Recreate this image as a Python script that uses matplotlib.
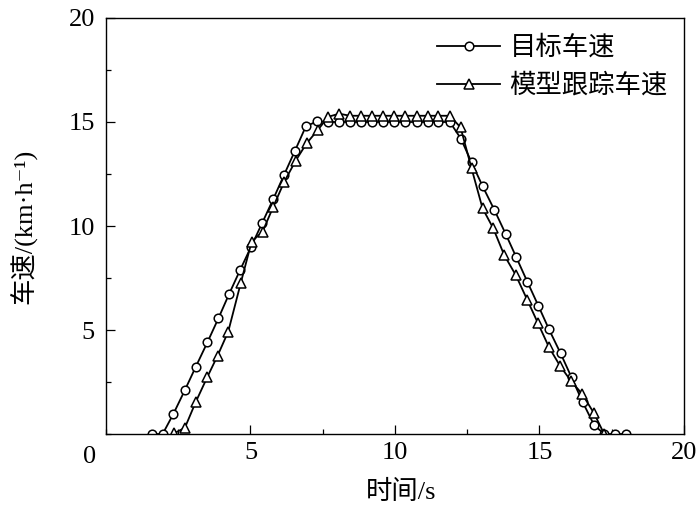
# -*- coding: utf-8 -*-

import numpy as np
import matplotlib
matplotlib.use("Agg")
import matplotlib.pyplot as plt
from matplotlib.ticker import MultipleLocator

plt.rcParams['font.family'] = ['Liberation Serif', 'Noto Sans CJK SC', 'DejaVu Serif']

# target speed (circles)
t_target = [1.58, 1.96, 2.33, 2.73, 3.11, 3.51, 3.89, 4.26, 4.64, 5.02,
            5.41, 5.79, 6.16, 6.54, 6.92, 7.31, 7.69, 8.07, 8.44, 8.82,
            9.20, 9.59, 9.98, 10.35, 10.75, 11.13, 11.49, 11.90, 12.28, 12.65,
            13.03, 13.44, 13.83, 14.20, 14.58, 14.96, 15.33, 15.73, 16.11, 16.49,
            16.89, 17.24, 17.61, 18.00]
v_target = [0.0, 0.0, 0.96, 2.11, 3.24, 4.41, 5.56, 6.73, 7.88, 9.00,
            10.16, 11.30, 12.45, 13.62, 14.80, 15.03, 15.0, 15.0, 15.0, 15.0,
            15.0, 15.0, 15.0, 15.0, 15.0, 15.0, 15.0, 15.0, 14.20, 13.06,
            11.92, 10.77, 9.62, 8.49, 7.32, 6.17, 5.03, 3.88, 2.72, 1.55,
            0.43, 0.0, 0.0, 0.0]

# model tracking speed (triangles)
t_model = [2.35, 2.73, 3.11, 3.51, 3.86, 4.23, 4.66, 5.04, 5.42, 5.79,
           6.17, 6.56, 6.94, 7.32, 7.69, 8.07, 8.44, 8.82, 9.20, 9.59,
           9.98, 10.35, 10.75, 11.13, 11.49, 11.90, 12.27, 12.65, 13.03, 13.40,
           13.78, 14.18, 14.58, 14.94, 15.33, 15.71, 16.09, 16.48, 16.89, 17.24]
v_model = [0.03, 0.30, 1.55, 2.75, 3.76, 4.92, 7.24, 9.25, 9.73, 10.93,
           12.13, 13.13, 13.97, 14.60, 15.25, 15.40, 15.30, 15.30, 15.30, 15.30,
           15.30, 15.30, 15.30, 15.30, 15.30, 15.30, 14.74, 12.77, 10.85, 9.89,
           8.60, 7.64, 6.44, 5.35, 4.17, 3.28, 2.55, 1.92, 0.99, 0.0]

fs = 19

fig = plt.figure(figsize=(7, 5.14), dpi=100)
ax = fig.add_axes([0.1514, 0.1556, 0.8257, 0.8094])

ax.plot(t_target, v_target, color="black", lw=1.3, marker="o", ms=6.2,
        mfc="white", mec="black", mew=1.1, label="目标车速")
ax.plot(t_model, v_model, color="black", lw=1.3, marker="^", ms=6.5,
        mfc="white", mec="black", mew=1.1, label="模型跟踪车速")

ax.set_xlim(0, 20)
ax.set_ylim(0, 20)
ax.xaxis.set_minor_locator(MultipleLocator(2.5))
ax.yaxis.set_minor_locator(MultipleLocator(2.5))
ax.set_xticks([5, 10, 15, 20])
ax.set_yticks([5, 10, 15, 20])
ax.tick_params(which="both", direction="in", top=False, right=False,
               labelsize=fs, width=0.9)
ax.tick_params(which="major", length=6.5)
ax.tick_params(which="minor", length=3.5)
ax.tick_params(axis="x", which="major", pad=6)
ax.tick_params(axis="y", which="major", pad=8)
for s in ax.spines.values():
    s.set_linewidth(1.0)

# shared "0" at the corner
ax.text(-0.029, -0.055, "0", transform=ax.transAxes, fontsize=fs,
        ha="center", va="center")

ax.set_xlabel("时间/s", fontsize=fs)
ax.xaxis.set_label_coords(0.51, -0.11)
ax.set_ylabel("车速/(km·h⁻¹)", fontsize=fs)
ax.yaxis.set_label_coords(-0.118, 0.5)

ax.legend(loc="upper right", bbox_to_anchor=(0.995, 0.99), frameon=False,
          fontsize=fs, handlelength=2.4, handletextpad=0.35,
          labelspacing=0.5, borderaxespad=0.1)

fig.savefig("out.png", dpi=100)
